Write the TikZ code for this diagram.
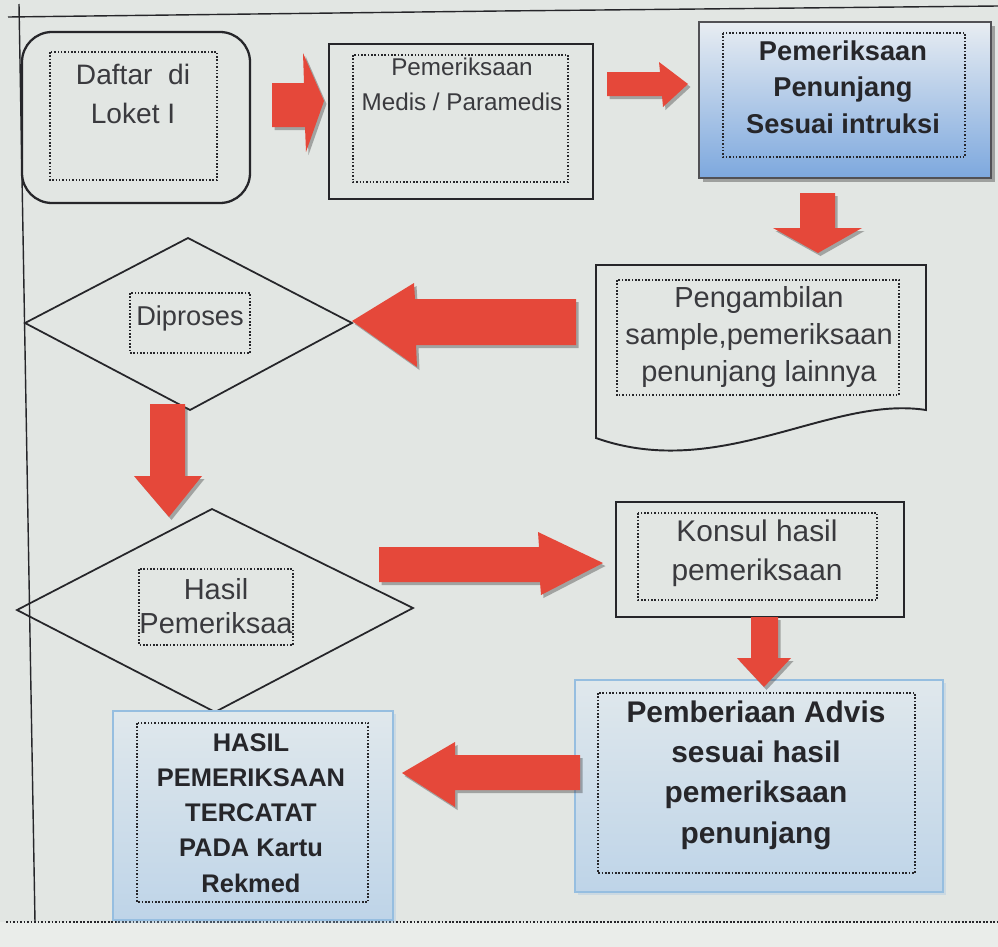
\documentclass[tikz,border=0pt]{standalone}
\usepackage{fontspec}
\setmainfont{Liberation Sans}
\usetikzlibrary{shadows,fit}
\definecolor{bg}{RGB}{226,230,227}
\definecolor{bglow}{RGB}{234,237,234}
\definecolor{ared}{RGB}{229,72,58}
\definecolor{ink}{RGB}{38,38,42}
\definecolor{txt}{RGB}{58,58,62}
\definecolor{blueT}{RGB}{232,237,242}
\definecolor{blueB}{RGB}{125,168,222}
\definecolor{paleT}{RGB}{224,232,236}
\definecolor{paleB}{RGB}{190,212,232}
\definecolor{paleE}{RGB}{150,190,224}
\tikzset{
  blockarrow/.style={fill=ared, draw=none,
    drop shadow={shadow xshift=0.05cm, shadow yshift=-0.06cm, opacity=0.4, fill=black!75}},
  frame/.style={draw=ink, line width=1.1pt},
  innerbox/.style={draw=ink, line width=0.9pt, densely dotted},
  fitbox/.style={inner sep=0pt},
  lbl/.style={text=txt, align=center, inner sep=0pt},
  blbl/.style={text=ink, align=center, inner sep=0pt},
  palebox/.style={draw=paleE, line width=0.8pt, top color=paleT, bottom color=paleB,
    drop shadow={shadow xshift=0.05cm, shadow yshift=-0.06cm, opacity=0.3, fill=paleE}},
}
\begin{document}
\begin{tikzpicture}[x=0.02cm,y=-0.02cm]
\useasboundingbox (0,0) rectangle (998,947);
\fill[bg] (0,0) rectangle (998,947);
\fill[bglow] (0,922) rectangle (998,947);
% screen frame
\draw[ink, line width=0.8pt] (8,17) -- (500,11) -- (998,6);
\draw[ink, line width=0.8pt] (19,4) -- (35,922);
\draw[ink, line width=1pt, densely dotted] (6,922) -- (998,922);

% ---- boxes ----
\node[fitbox, fit={(22,32)(250,203)}, frame, line width=1.3pt, rounded corners=0.6cm] (loket) {};
\draw[innerbox] (50,52) rectangle (217,180);
\node[lbl, font=\fontsize{16}{22.7}\selectfont] (tloket) at (133,94) {Daftar\ \ di\\Loket I};

\node[fitbox, fit={(329,44)(593,199)}, frame] (medis) {};
\draw[innerbox] (353,55) rectangle (568,182);
\node[lbl, font=\fontsize{13.8}{19.8}\selectfont] (tmedis) at (462,84) {Pemeriksaan\\Medis / Paramedis};

\node[fitbox, fit={(699,22)(991,178)}, draw=ink!80, line width=1pt, top color=blueT, bottom color=blueB,
  drop shadow={shadow xshift=0.07cm, shadow yshift=-0.08cm, opacity=0.45, fill=black!70}] (penunjang) {};
\draw[innerbox] (723,33) rectangle (965,157);
\node[blbl, font=\fontsize{15.5}{20.7}\bfseries\selectfont] (tpenunjang) at (843,87) {Pemeriksaan\\Penunjang\\Sesuai intruksi};

% document shape
\draw[frame, fill=bg] (596,265) -- (926,265) -- (926,410)
   .. controls (830,395) and (720,482) .. (596,438) -- cycle;
\coordinate (sample) at (761,336);
\draw[innerbox] (617,280) rectangle (899,395);
\node[lbl, font=\fontsize{16.5}{21}\selectfont] (tsample) at (759,337) {Pengambilan\\sample,pemeriksaan\\penunjang lainnya};

% diamond Diproses
\draw[ink, line width=1pt] (25,323) -- (188,238) -- (352,323) -- (190,410) -- cycle;
\coordinate (diproses) at (190,323);
\draw[innerbox] (130,293) rectangle (250,353);
\node[lbl, font=\fontsize{15.5}{19}\selectfont] (tdiproses) at (190,318) {Diproses};

% diamond Hasil
\draw[ink, line width=1pt] (17,610) -- (212,509) -- (413,608) -- (215,712) -- cycle;
\coordinate (hasil) at (214,608);
\draw[innerbox] (139,569) rectangle (293,645);
\node[lbl, font=\fontsize{16.5}{19.3}\selectfont] (thasil) at (216,606) {Hasil\\Pemeriksaa};

\node[fitbox, fit={(616,502)(904,617)}, frame] (konsul) {};
\draw[innerbox] (638,513) rectangle (877,600);
\node[lbl, font=\fontsize{17}{22}\selectfont] (tkonsul) at (757,553) {Konsul hasil\\pemeriksaan};

\node[fitbox, fit={(575,680)(943,892)}, palebox] (advis) {};
\draw[innerbox] (598,693) rectangle (915,873);
\node[blbl, font=\fontsize{17}{22.9}\bfseries\selectfont] (tadvis) at (756,775) {Pemberiaan Advis\\sesuai hasil\\pemeriksaan\\penunjang};

\node[fitbox, fit={(113,711)(393,920)}, palebox] (rekmed) {};
\draw[innerbox] (137,723) rectangle (368,902);
\node[blbl, font=\fontsize{14.5}{20}\bfseries\selectfont] (trekmed) at (251,813) {HASIL\\PEMERIKSAAN\\TERCATAT\\PADA Kartu\\Rekmed};

% ---- block arrows (connectors) ----
\fill[blockarrow] (272,83) -- (304,83) -- (303,53) -- (324,101) -- (306,152) -- (305,127) -- (272,127) -- cycle;
\fill[blockarrow] (607,72) -- (660,72) -- (659,62) -- (688,84) -- (663,107) -- (662,96) -- (607,96) -- cycle;
\fill[blockarrow] (800,193) -- (835,193) -- (835,228) -- (862,228) -- (818,253) -- (773,228) -- (800,228) -- cycle;
\fill[blockarrow] (576,299) -- (415,299) -- (414,283) -- (352,321) -- (417,367) -- (416,345) -- (576,345) -- cycle;
\fill[blockarrow] (150,404) -- (185,404) -- (185,476) -- (202,476) -- (169,517) -- (134,476) -- (150,476) -- cycle;
\fill[blockarrow] (379,547) -- (539,547) -- (538,532) -- (603,563) -- (541,595) -- (540,582) -- (379,582) -- cycle;
\fill[blockarrow] (751,617) -- (778,617) -- (778,658) -- (791,658) -- (764,687) -- (737,658) -- (751,658) -- cycle;
\fill[blockarrow] (580,755) -- (455,755) -- (455,742) -- (402,773) -- (455,807) -- (455,790) -- (580,790) -- cycle;
\end{tikzpicture}
\end{document}
